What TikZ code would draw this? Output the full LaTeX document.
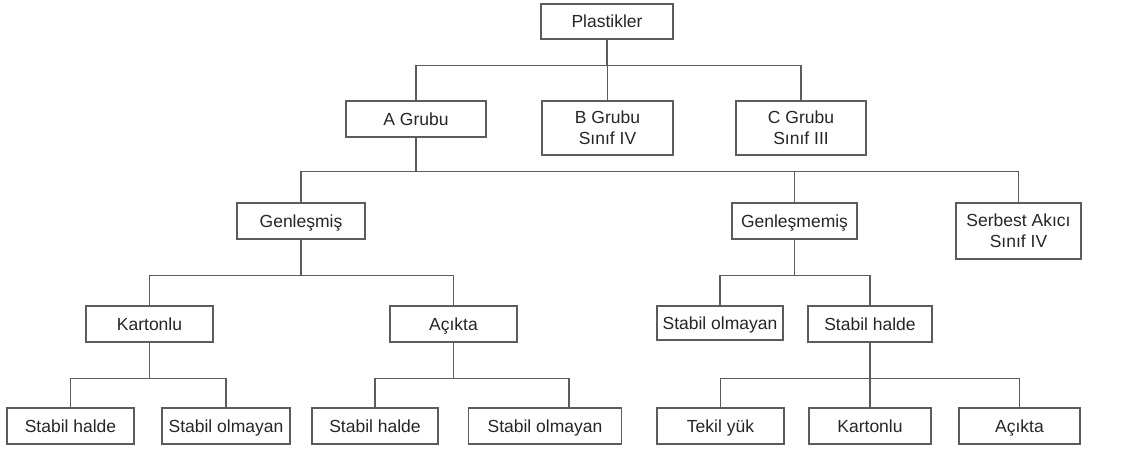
\documentclass[tikz,border=0pt]{standalone}
\usepackage{fontspec}
\setmainfont{Liberation Sans}
\usepackage{tikz}
\definecolor{linegray}{HTML}{5C5C5C}
\definecolor{textgray}{HTML}{262626}
\tikzset{
  box/.style={draw=linegray, line width=1.2pt, fill=white, inner sep=0pt,
    minimum height=36, text=textgray, text height=12.6, text depth=0,
    font=\fontsize{17.5}{21}\selectfont},
  twobox/.style={draw=linegray, line width=1.2pt, fill=white, inner sep=0pt,
    minimum height=54, align=center, text=textgray,
    font=\fontsize{17.5}{21}\selectfont},
  link/.style={draw=linegray, line width=1.2pt}
}

\begin{document}
\begin{tikzpicture}[x=1pt, y=-1pt]
      \useasboundingbox (0,0) rectangle (1132,448);
      % level 0 and 1
      \node (pl) at (607,21.5)[box, minimum width=132, minimum height=35]{Plastikler};
      \node (ag) at (416,119)[box, minimum width=140]{A Grubu};
      \node (bg) at (607.5,128)[twobox, minimum width=131]{B Grubu\\Sınıf IV};
      \node (cg) at (801,128)[twobox, minimum width=130]{C Grubu\\Sınıf III};
      % level 2
      \node (ge) at (301,221)[box, minimum width=128]{Genleşmiş};
      \node (gm) at (794.5,221)[box, minimum width=125]{Genleşmemiş};
      \node (sa) at (1018.5,231)[twobox, minimum width=125, minimum height=56]{Serbest Akıcı\\Sınıf IV};
      % level 3
      \node (ka) at (149.5,324)[box, minimum width=127]{Kartonlu};
      \node (ac) at (453.5,324)[box, minimum width=127]{Açıkta};
      \node (so) at (720,323)[box, minimum width=126, minimum height=34]{Stabil olmayan};
      \node (sh) at (870,324)[box, minimum width=124]{Stabil halde};
      % level 4
      \node (kash) at (70.5,426)[box, minimum width=127]{Stabil halde};
      \node (kaso) at (226,426)[box, minimum width=128]{Stabil olmayan};
      \node (acsh) at (375,426)[box, minimum width=126]{Stabil halde};
      \node (acso) at (545,426)[box, minimum width=153]{Stabil olmayan};
      \node (tk) at (720.5,426)[box, minimum width=127]{Tekil yük};
      \node (shka) at (870,426)[box, minimum width=122]{Kartonlu};
      \node (shac) at (1019.5,426)[box, minimum width=121]{Açıkta};
      % connectors: parent/child/drop
      \foreach \p/\c/\d in {pl/ag/26, pl/bg/26, pl/cg/26,
                            ag/ge/34, ag/gm/34, ag/sa/34,
                            ge/ka/36, ge/ac/36, gm/so/36, gm/sh/36,
                            ka/kash/36, ka/kaso/36, ac/acsh/36,
                            sh/tk/36, sh/shka/36, sh/shac/36}{
      \draw[link] (\p.south) -- ++(0,\d) -| (\c.north);
      }
      % this one lands off centre
      \draw[link] (ac.south) -- ++(0,36) -| ([xshift=24]acso.north);
  \end{tikzpicture}
\end{document}
